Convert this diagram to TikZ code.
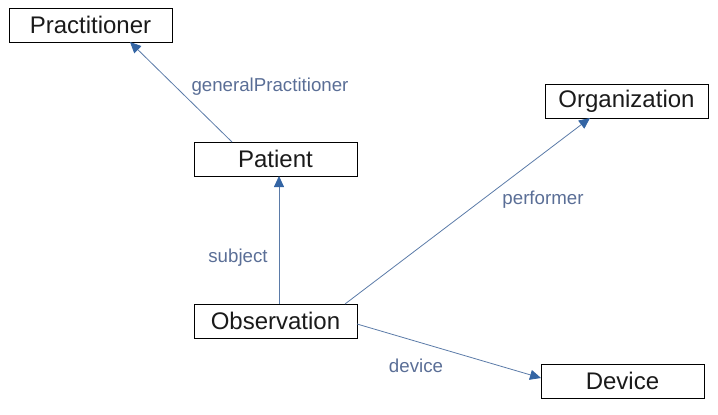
\documentclass[tikz,border=0pt]{standalone}
\usepackage{fontspec}
\setmainfont{Liberation Sans}
\usetikzlibrary{arrows.meta}
\definecolor{boxtext}{HTML}{1A1A1A}
\definecolor{lbl}{HTML}{5A6E96}
\definecolor{edge}{HTML}{5B7BA8}
\definecolor{tip}{HTML}{3465A4}
\tikzset{
  cls/.style={draw=black, line width=1pt, minimum width=163pt, minimum height=34pt, inner sep=0pt, text=boxtext, font=\fontsize{24}{27}\selectfont},
  rel/.style={draw=edge, line width=0.8pt, -{Triangle[length=11pt,width=10pt,fill=tip,color=tip]}},
  rlbl/.style={text=lbl, font=\fontsize{18.7}{21}\selectfont, inner sep=0pt}
}
\begin{document}
\begin{tikzpicture}[x=1pt,y=-1pt]
\useasboundingbox (0,0) rectangle (718,415);
\node[cls] (prac) at (90.5,25) {Practitioner};
\node[cls] (pat) at (275.5,159) {Patient};
\node[cls] (obs) at (275.5,321) {Observation};
\node[cls] (org) at (626.5,101) {Organization};
\node[cls] (dev) at (622.5,381) {Device};
\coordinate (patTop) at (232,142);
\coordinate (pracBot) at (130,42);
\coordinate (obsTop) at (279,304);
\coordinate (patBot) at (279,176);
\coordinate (obsTR) at (345,304);
\coordinate (orgBot) at (590,118);
\coordinate (obsR) at (357,324);
\coordinate (devL) at (541,378);
\draw[rel] (patTop) -- (pracBot);
\draw[rel] (obsTop) -- (patBot);
\draw[rel] (obsTR) -- (orgBot);
\draw[rel] (obsR) -- (devL);
\node[rlbl] (l1) at (270,86.5) {generalPractitioner};
\node[rlbl] (l2) at (238,257.5) {subject};
\node[rlbl] (l3) at (543,199.5) {performer};
\node[rlbl] (l4) at (416,366) {device};
\end{tikzpicture}
\end{document}
